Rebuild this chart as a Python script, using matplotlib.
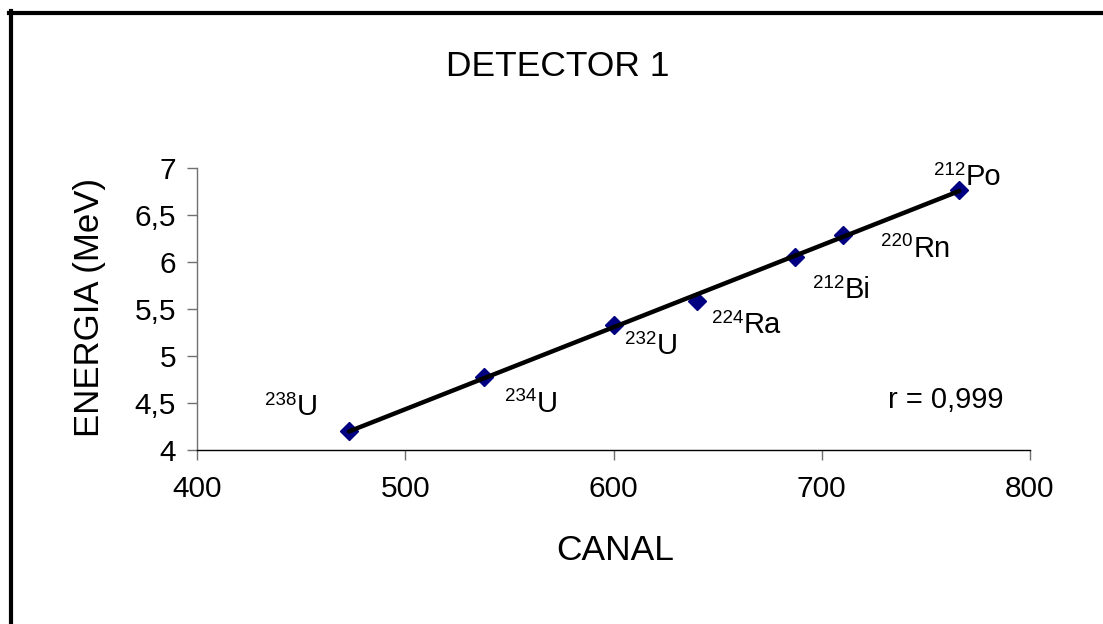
import numpy as np
import matplotlib
matplotlib.use('Agg')
import matplotlib.pyplot as plt
from matplotlib.lines import Line2D

plt.rcParams['font.family'] = ['Liberation Sans', 'DejaVu Sans']

# channel vs alpha energy, detector 1
canal = [473, 538, 600, 640, 687, 710, 766]
energia = [4.20, 4.78, 5.33, 5.59, 6.05, 6.29, 6.77]

# isotope labels (mass number, symbol)
masa = ['238', '234', '232', '224', '212', '220', '212']
simbolo = ['U', 'U', 'U', 'Ra', 'Bi', 'Rn', 'Po']
# where each symbol starts (left edge, baseline) in data units
label_x = [447.9, 563.1, 620.7, 662.7, 711.2, 744.0, 769.1]
label_y = [4.372, 4.407, 5.021, 5.241, 5.614, 6.056, 6.819]

xticks = [400, 500, 600, 700, 800]
yticks = [4, 4.5, 5, 5.5, 6, 6.5, 7]
ytick_labels = ['4', '4,5', '5', '5,5', '6', '6,5', '7']

W, H = 1103, 624
fig = plt.figure(figsize=(W / 100, H / 100), dpi=100)
ax = fig.add_axes([197 / W, 1 - 450 / H, 833 / W, 282 / H])

# data points and linear fit
ax.plot(canal, energia, linestyle='none', marker='D', markersize=9,
        color='#000080', zorder=2, clip_on=False)
a, b = np.polyfit(canal, energia, 1)
xs = np.array([min(canal), max(canal)])
ax.plot(xs, a * xs + b, color='black', linewidth=3.2, zorder=3,
        solid_capstyle='round')

for m, s, lx, ly in zip(masa, simbolo, label_x, label_y):
    ax.text(lx, ly, s, fontsize=21, ha='left', va='baseline')
    ax.annotate(m, xy=(lx, ly), xytext=(-0.5, 7.5), textcoords='offset points',
                fontsize=13.5, ha='right', va='baseline')
ax.text(731.8, 4.444, 'r = 0,999', fontsize=21, ha='left', va='baseline')

ax.set_xlim(400, 800)
ax.set_ylim(4, 7)
ax.set_xticks(xticks)
ax.set_yticks(yticks)
ax.set_yticklabels(ytick_labels)
ax.tick_params(axis='both', direction='out', length=7, width=1,
               color='#707070', labelsize=21.5)
ax.tick_params(axis='x', pad=11)
ax.tick_params(axis='y', pad=8)
for side in ['top', 'right']:
    ax.spines[side].set_visible(False)
for side in ['left', 'bottom']:
    ax.spines[side].set_linewidth(1)
ax.spines['left'].set_color('#707070')
ax.spines['bottom'].set_color('black')

fig.text(557.5 / W, 1 - 66 / H, 'DETECTOR 1', fontsize=25.5,
         ha='center', va='center')
fig.text(615 / W, 1 - 550 / H, 'CANAL', fontsize=25.5,
         ha='center', va='center')
fig.text(90 / W, 1 - 307.5 / H, 'ENERGIA (MeV)', fontsize=25,
         ha='center', va='center', rotation=90)

# outer frame (only left and top visible)
fig.add_artist(Line2D([11 / W, 11 / W], [0, 1 - 11 / H], color='black',
                      linewidth=3, transform=fig.transFigure))
fig.add_artist(Line2D([9 / W, 1], [1 - 13 / H, 1 - 13 / H], color='black',
                      linewidth=3, transform=fig.transFigure))

fig.savefig('out.png', dpi=100)
